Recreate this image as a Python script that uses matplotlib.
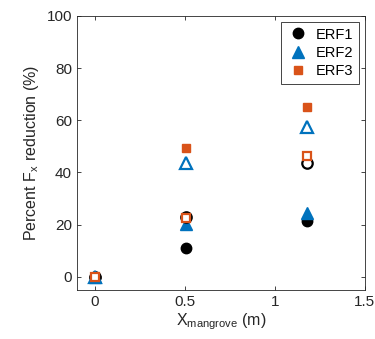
import matplotlib.pyplot as plt

plt.rcParams['font.family'] = ['Liberation Sans', 'DejaVu Sans']

# x positions of the three cases
x = [0, 0.505, 1.18]

# filled markers (in legend)
erf1 = [0, 11, 21.5]
erf2 = [0, 20.3, 24.5]
erf3 = [0, 49.2, 65]

# open markers (second set)
erf1_open = [0, 23, 43.7]
erf2_open = [0, 43.5, 57.3]
erf3_open = [0, 22.4, 46.3]

black = 'black'
blue = (0, 0.447, 0.741)
orange = (0.85, 0.325, 0.098)

fig = plt.figure(figsize=(3.75, 3.39), dpi=100)
ax = fig.add_axes([0.205, 0.145, 0.768, 0.808])

ax.plot(x, erf1, 'o', color=black, ms=7.5, label='ERF1')
ax.plot(x, erf2, '^', color=blue, ms=8.5, label='ERF2')
ax.plot(x, erf3, 's', color=orange, ms=6, label='ERF3')

ax.plot(x, erf1_open, 'o', mfc='none', mec=black, mew=1.6, ms=7.5)
ax.plot(x, erf2_open, '^', mfc='none', mec=blue, mew=1.6, ms=8)
ax.plot(x, erf3_open, 's', mfc='white', mec=orange, mew=1.6, ms=6)

ax.set_xlim(-0.1, 1.5)
ax.set_ylim(-5, 100)
ax.set_xticks([0, 0.5, 1, 1.5])
ax.set_xticklabels(['0', '0.5', '1', '1.5'])
ax.set_yticks([0, 20, 40, 60, 80, 100])

ax.tick_params(direction='in', top=True, right=True, labelsize=11,
               colors='#262626', length=3, width=0.6)
for s in ax.spines.values():
    s.set_color('#262626')
    s.set_linewidth(0.6)

ax.set_xlabel('X$_{\\mathregular{mangrove}}$ (m)', fontsize=11.5, color='#262626', labelpad=2)
ax.set_ylabel('Percent F$_{\\mathregular{x}}$ reduction (%)', fontsize=11.5, color='#262626')

leg = ax.legend(loc='upper right', fontsize=10.5, fancybox=False, framealpha=1,
                edgecolor='#262626', handletextpad=0.4, borderaxespad=0.4,
                labelspacing=0.3, handlelength=1.6)
leg.get_frame().set_linewidth(0.6)

fig.savefig('out.png', dpi=100)
